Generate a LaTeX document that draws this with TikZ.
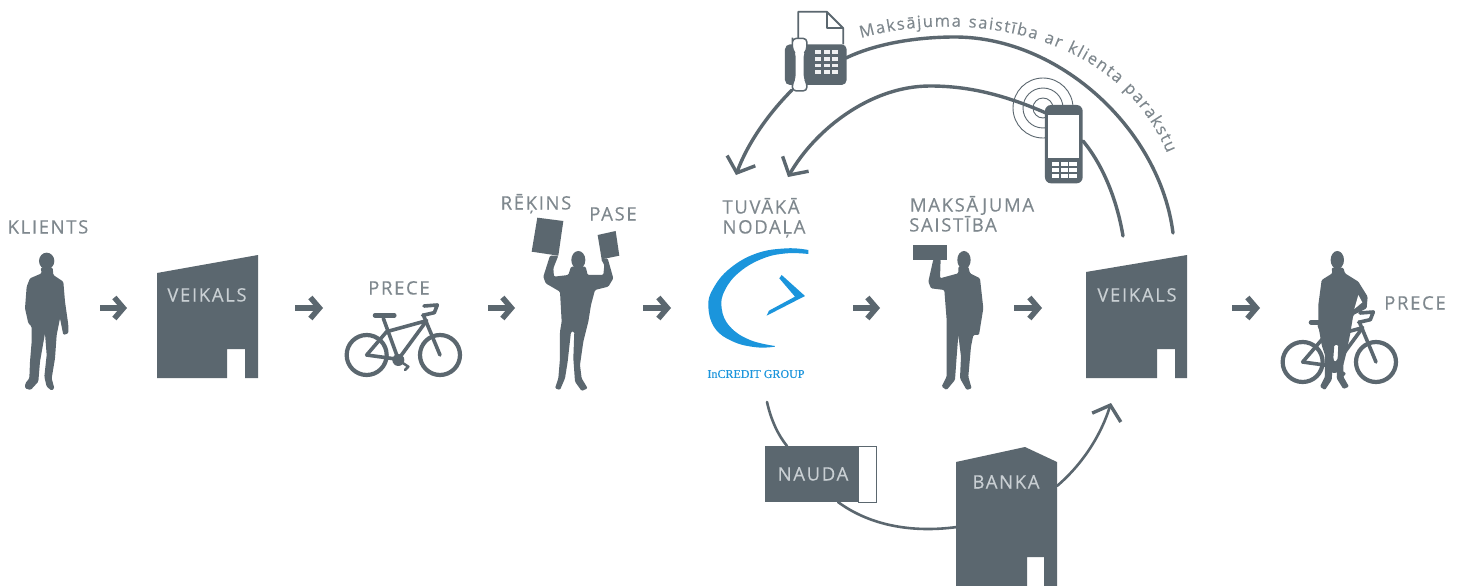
\documentclass[tikz,border=0pt]{standalone}
\usepackage{fontspec}
\usetikzlibrary{arrows.meta,decorations.text,calc}
\setmainfont[LetterSpace=9,FakeBold=0.25]{Open Sans}
\newfontfamily\arcfont[LetterSpace=2,FakeBold=0.25]{Open Sans}
\newfontfamily\logofont[FakeBold=0.2]{Liberation Serif}
\definecolor{slate}{HTML}{5B676F}
\definecolor{labelc}{HTML}{7F888E}
\definecolor{inlabel}{HTML}{C9CFD3}
\definecolor{logoblue}{HTML}{1B95DC}
\tikzset{
  lab/.style={inner sep=0pt,text height=13pt,text depth=0pt,font=\fontsize{18.5}{21}\selectfont,text=labelc},
  inlab/.style={lab,text=inlabel},
  sil/.style={fill=slate,draw=none},
  figure/.style={fill=slate,draw=none,rounded corners=1.2pt},
  bigcurve/.style={draw=slate,line width=3.4pt,line cap=round},
  bigarrow/.style={bigcurve,-{Straight Barb[length=13pt,width=30pt,line width=3.4pt]}},
  stepar/.style={draw=slate,line width=5.5pt,-{Straight Barb[length=9pt,width=21pt,line width=5.5pt]}},
  bikeline/.style={draw=slate,line width=3.6pt,line cap=round,line join=round},
  zoomed/.style={x=0.33333pt,y=-0.33333pt,shift={#1}}
}
\newcommand{\bikeshape}[1]{%
  \begin{scope}[zoomed={#1}]
    \draw[bikeline,line width=4.2pt] (1100,495) circle[radius=60];
    \draw[bikeline,line width=4.2pt] (1320,495) circle[radius=60];
    \draw[bikeline] (1100,495) -- (1195,508) -- (1150,385);
    \draw[bikeline] (1100,495) -- (1160,425) -- (1280,392) -- (1195,508);
    \draw[bikeline] (1270,375) -- (1320,495);
    \draw[bikeline] (1272,348) -- (1312,345) -- (1303,368) -- (1268,376);
    \draw[bikeline,line width=4.5pt] (1125,376) -- (1183,376);
    \fill[slate] (1195,510) circle[radius=18];
    \draw[bikeline,line width=2.5pt] (1195,510) -- (1225,530) -- (1215,540);
  \end{scope}}
\begin{document}
\begin{tikzpicture}[x=1pt,y=-1pt]
\useasboundingbox (0,0) rectangle (1462,586);
\fill[white] (0,0) rectangle (1462,586);

% anchor points of the connectors
\coordinate (logoOut) at (767,402);
\coordinate (naudaTop) at (787,446);
\coordinate (naudaOut) at (838,502);
\coordinate (bankaIn) at (957,527);
\coordinate (bankaOut) at (1057,486);
\coordinate (shopIn) at (1111,403);
\coordinate (shopOutA) at (1173,233);
\coordinate (shopOutB) at (1123,236);
\coordinate (faxIn) at (846,58);
\coordinate (faxOut) at (792,90);
\coordinate (phoneIn) at (1083,141);
\coordinate (phoneOut) at (1046,113);
\coordinate (branchA) at (736,175);
\coordinate (branchB) at (788,177);

% signal rings
\draw[slate,line width=0.9pt] (1043,108) circle[radius=30] circle[radius=20] circle[radius=10];

% curved connectors
\draw[bigcurve] (shopOutA) .. controls (1160,130) and (1060,37) .. (955,37) .. controls (915,37) and (875,44) .. (faxIn);
\draw[bigarrow] (faxOut) .. controls (770,112) and (748,142) .. (branchA);
\draw[bigcurve] (shopOutB) .. controls (1117,200) and (1103,165) .. (phoneIn);
\draw[bigarrow] (phoneOut) .. controls (1000,93) and (965,86) .. (930,86) .. controls (870,86) and (815,130) .. (branchB);
\draw[bigcurve,line width=2.6pt] (logoOut) .. controls (771,420) and (778,435) .. (naudaTop);
\draw[bigcurve,line width=2.6pt] (naudaOut) .. controls (865,522) and (905,534) .. (bankaIn);
\draw[bigarrow,line width=2.6pt] (bankaOut) .. controls (1085,462) and (1102,432) .. (shopIn);

% curved text
\path[postaction={decorate},decoration={text along path,text align=fit to path,
  text={|\fontsize{16.5}{19}\arcfont\color{labelc}|Maksājuma saistība ar klienta parakstu}}]
  (861,38) .. controls (960,10) and (1115,28) .. (1167,153);

% step arrows
\foreach \nm/\xa/\xb in {a/100/127,b/295/323,c/488/515,d/643/671,e/853/880,f/1014/1042,g/1232/1260}{
  \coordinate (s\nm) at (\xa,308);
  \coordinate (t\nm) at (\xb,308);
  \draw[stepar] (s\nm) -- (t\nm);
}

% shops
\fill[slate] (157,273) -- (258,255) -- (258,378) -- (245,378) -- (245,349) -- (227,349) -- (227,378) -- (157,378) -- cycle;
\fill[slate] (1086,272) -- (1187,255) -- (1187,378) -- (1175,378) -- (1175,349) -- (1157,349) -- (1157,378) -- (1086,378) -- cycle;
\node[inlab] (veikalsA) at (207,295) {VEIKALS};
\node[inlab] (veikalsB) at (1137,295) {VEIKALS};

% bank
\fill[slate] (956,462) -- (1025,447) -- (1057,462) -- (1057,586) -- (1044,586) -- (1044,557) -- (1027,557) -- (1027,586) -- (956,586) -- cycle;
\node[inlab] (banka) at (1006,482) {BANKA};

% money
\draw[slate,line width=1pt,fill=white] (858,446) rectangle (876,502);
\fill[slate] (765,446) rectangle (858,502);
\node[inlab] (nauda) at (813,474) {NAUDA};

% person 1
\begin{scope}[zoomed={(30,735)}]
  \fill[sil] (110,48) ellipse[x radius=23,y radius=25];
  \fill[figure] (92,68) -- (95,85) -- (60,100) -- (50,125) -- (45,190) -- (55,235) -- (65,245) -- (65,290) -- (60,350) -- (58,400) -- (46,415) -- (45,430) -- (62,435) -- (85,410) -- (90,350) -- (105,265) -- (110,330) -- (103,395) -- (110,425) -- (125,437) -- (133,430) -- (125,400) -- (135,340) -- (140,270) -- (150,220) -- (160,270) -- (175,265) -- (175,240) -- (165,170) -- (160,110) -- (130,90) -- (128,68) -- cycle;
\end{scope}

% person 2 and papers
\begin{scope}[zoomed={(1575,645)}]
  \fill[sil] (37,8) -- (115,18) -- (100,122) -- (20,110) -- cycle;
  \fill[sil] (218,60) -- (272,48) -- (283,122) -- (230,133) -- cycle;
  \fill[sil] (160,135) ellipse[x radius=21,y radius=27];
  \fill[figure] (100,122) -- (85,160) -- (87,185) -- (130,180) -- (138,155) -- (182,155) -- (188,180) -- (235,180) -- (238,150) -- (228,132) -- (248,130) -- (265,190) -- (250,215) -- (210,225) -- (198,270) -- (190,320) -- (175,380) -- (165,450) -- (170,490) -- (188,520) -- (170,528) -- (150,500) -- (145,430) -- (148,350) -- (138,350) -- (128,440) -- (120,490) -- (105,525) -- (90,520) -- (100,490) -- (105,430) -- (105,350) -- (110,320) -- (105,230) -- (62,205) -- (55,185) -- (75,122) -- cycle;
\end{scope}

% person 3 and paper
\begin{scope}[zoomed={(2715,720)}]
  \fill[sil] (25,15) rectangle (125,60);
  \fill[sil] (177,60) ellipse[x radius=20,y radius=27];
  \fill[figure] (85,58) -- (70,125) -- (78,145) -- (118,150) -- (125,240) -- (125,300) -- (125,350) -- (125,410) -- (110,440) -- (125,450) -- (150,420) -- (155,350) -- (160,285) -- (168,350) -- (165,415) -- (185,450) -- (200,445) -- (190,410) -- (198,320) -- (205,285) -- (222,285) -- (235,205) -- (225,115) -- (195,100) -- (190,80) -- (160,80) -- (160,100) -- (105,115) -- (107,58) -- cycle;
\end{scope}

% bicycles
\bikeshape{(0,570)}
\bikeshape{(2808,591)}

% person 4
\begin{scope}[zoomed={(3825,735)}]
  \fill[sil] (187,45) ellipse[x radius=20,y radius=27];
  \fill[figure] (170,68) -- (172,85) -- (140,105) -- (130,180) -- (130,240) -- (140,300) -- (150,330) -- (150,395) -- (135,425) -- (150,435) -- (170,405) -- (178,300) -- (190,300) -- (185,400) -- (205,432) -- (222,425) -- (205,395) -- (205,360) -- (215,320) -- (225,270) -- (235,210) -- (275,190) -- (278,155) -- (250,110) -- (210,85) -- (205,68) -- cycle;
  \fill[white] (238,192) -- (250,150) -- (262,172) -- cycle;
\end{scope}

% fax
\begin{scope}[zoomed={(2325,15)}]
  \draw[slate,line width=1.8pt,fill=white,line join=round] (70,118) -- (70,20) -- (155,20) -- (205,70) -- (205,118);
  \draw[slate,line width=1.8pt,line join=round] (155,20) -- (155,70) -- (205,70);
  \fill[slate,rounded corners=5pt] (30,118) rectangle (215,240);
  \draw[slate,line width=1.5pt,fill=white,rounded corners=4pt] (52,110) -- (52,135) -- (60,145) -- (60,220) -- (52,235) -- (52,258) -- (96,258) -- (96,235) -- (88,220) -- (88,145) -- (96,135) -- (96,100) -- (52,100) -- cycle;
  \foreach \r in {0,1,2,3}{\foreach \c in {0,1,2}{
    \fill[white!90!slate] (120+\c*26,136+\r*20) rectangle ++(18,11);
  }}
\end{scope}

% phone
\begin{scope}[zoomed={(2100,0)}]
  \fill[slate,rounded corners=6pt] (1035,315) rectangle (1148,550);
  \fill[white] (1045,345) rectangle (1138,475);
  \foreach \r in {0,1,2}{\foreach \c in {0,1,2}{
    \fill[white] (1056+\c*26,487+\r*17) rectangle ++(22,12);
  }}
\end{scope}

% logo
\begin{scope}[zoomed={(2100,720)}]
  \fill[logoblue] plot[smooth,tension=.7] coordinates {(325,30) (260,25) (170,40) (90,85) (40,145) (25,200) (45,265) (100,305) (170,322) (225,320)}
    -- plot[smooth,tension=.7] coordinates {(225,318) (150,300) (90,260) (65,205) (75,150) (120,95) (190,55) (260,40) (325,42)} -- cycle;
  \fill[logoblue] (245,105) -- (315,168) -- (200,227) -- (207,212) -- (285,170) -- (238,115) -- cycle;
\end{scope}
\node[inner sep=0pt,text=logoblue,font=\logofont\fontsize{12}{14}\selectfont] (logotext) at (756,374) {InCREDIT GROUP};

% labels
\node[lab] (klients) at (48,227) {KLIENTS};
\node[lab] (preceA) at (399,288) {PRECE};
\node[lab] (rekins) at (536,203) {RĒĶINS};
\node[lab] (pase) at (613,214) {PASE};
\node[lab] (tuvaka) at (761,207) {TUVĀKĀ};
\node[lab] (nodala) at (764,227) {NODAĻA};
\node[lab] (maks) at (972,205) {MAKSĀJUMA};
\node[lab] (saist) at (953,225) {SAISTĪBA};
\node[lab] (preceB) at (1415,303) {PRECE};
\end{tikzpicture}
\end{document}
